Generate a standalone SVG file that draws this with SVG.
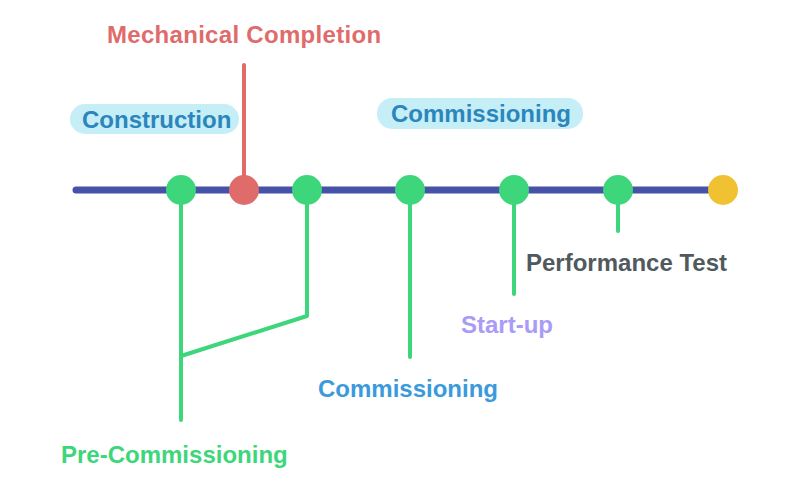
<svg xmlns="http://www.w3.org/2000/svg" width="800" height="488" viewBox="0 0 800 488">
<style>
text{font-family:"Liberation Sans",Arial,sans-serif;font-weight:bold;font-size:24px}
.g{stroke:#3DD67A;stroke-width:4;fill:none;stroke-linecap:round;stroke-linejoin:round}
.pill{fill:#C6EEF6}
.phase{fill:#2A86BC}
</style>
<rect width="800" height="488" fill="#fff"/>
<g id="connectors">
<line x1="76" y1="190" x2="720" y2="190" stroke="#4652A8" stroke-width="7" stroke-linecap="round"/>
<line x1="244" y1="65" x2="244" y2="190" stroke="#E06B6B" stroke-width="4" stroke-linecap="round"/>
<polyline class="g" points="181,190 181,420"/>
<polyline class="g" points="307,190 307,316 181,356"/>
<polyline class="g" points="410,190 410,357"/>
<polyline class="g" points="514,190 514,294"/>
<polyline class="g" points="618,190 618,231"/>
</g>
<g id="construction"><rect class="pill" x="70" y="104" width="169" height="30" rx="15"/><text class="phase" x="82" y="128">Construction</text></g>
<g id="commissioning-phase"><rect class="pill" x="377" y="98" width="206" height="31" rx="15"/><text class="phase" x="391" y="122">Commissioning</text></g>
<g id="mechanical-completion"><circle cx="244" cy="190" r="15" fill="#E06B6B"/><text x="107" y="43" fill="#E06B6B" letter-spacing="0.3">Mechanical Completion</text></g>
<g id="pre-commissioning"><circle cx="181" cy="190" r="15" fill="#3DD67A"/><circle cx="307" cy="190" r="15" fill="#3DD67A"/><text x="61" y="463" fill="#3DD67A">Pre-Commissioning</text></g>
<g id="commissioning"><circle cx="410" cy="190" r="15" fill="#3DD67A"/><text x="318" y="397" fill="#3A9ADB">Commissioning</text></g>
<g id="start-up"><circle cx="514" cy="190" r="15" fill="#3DD67A"/><text x="461" y="333" fill="#A99BF7">Start-up</text></g>
<g id="performance-test"><circle cx="618" cy="190" r="15" fill="#3DD67A"/><text x="526" y="271" fill="#505A5E">Performance Test</text></g>
<g id="end"><circle cx="723" cy="190" r="15" fill="#F0C232"/></g>
</svg>
